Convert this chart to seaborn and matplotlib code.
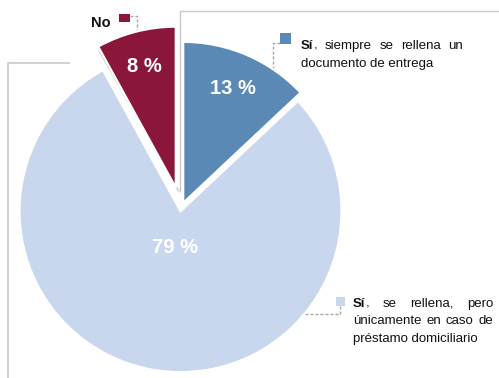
import numpy as np
import matplotlib
matplotlib.use("Agg")
import matplotlib.pyplot as plt
import seaborn as sns
from matplotlib.patches import Rectangle

# Answer shares (percent), drawn clockwise from 12 o'clock
shares = [13, 79, 8]
slice_keys = ["siempre", "prestamo", "no"]
palette = ["#5B89B5", "#C8D7EE", "#8A1739"]

# Callout texts: each line is a list of words, each word a list of (text, weight)
callout_siempre = [
    [[("Sí", "bold"), (",", "normal")], [("siempre", "normal")], [("se", "normal")],
     [("rellena", "normal")], [("un", "normal")]],
    "documento de entrega",
]
callout_prestamo = [
    [[("Sí", "bold"), (",", "normal")], [("se", "normal")], [("rellena,", "normal")],
     [("pero", "normal")]],
    [[("únicamente", "normal")], [("en", "normal")], [("caso", "normal")], [("de", "normal")]],
    "préstamo domiciliario",
]
callout_no = "No"

sns.set_theme(style="white")
plt.rcParams["font.family"] = ["Liberation Sans", "DejaVu Sans"]

W, H = 499, 378
fig = plt.figure(figsize=(W / 100, H / 100), dpi=100)
fig.patch.set_facecolor("white")
ax = fig.add_axes([0, 0, 1, 1])


def Y(y):
    """Convert a top-down pixel row to the axis' bottom-up coordinate."""
    return H - y


GRID = "#C9C9C9"
DASH = "#A8A8A8"
INK = "#111111"
FS = 9.5

# Light frame lines of the surrounding layout
ax.plot([180.5, 180.5, W], [Y(192), Y(11), Y(11)], color=GRID, lw=1.0, zorder=0,
        solid_capstyle="butt")
ax.plot([70, 8.5, 8.5], [Y(63), Y(63), Y(H)], color=GRID, lw=1.2, zorder=0,
        solid_capstyle="butt")

# pie() offsets exploded wedges in data units (pixels here)
wedges, _, pct_texts = ax.pie(
    shares,
    colors=palette,
    startangle=90,
    counterclock=False,
    explode=[5.6, 3.2, 21.0],
    radius=161,
    center=(181, Y(208)),
    autopct=lambda p: f"{p:.0f} %",
    pctdistance=0.775,
    wedgeprops=dict(edgecolor="white", linewidth=1.6),
    textprops=dict(color="white", fontweight="bold", fontsize=14.5),
)
for w in wedges:
    w.set_zorder(2)
for t in pct_texts:
    t.set_zorder(4)

# The large slice carries its label close to the centre
big = wedges[1]
mid = np.deg2rad((big.theta1 + big.theta2) / 2)
cx, cy = big.center
pct_texts[1].set_position((cx + 0.23 * big.r * np.cos(mid), cy + 0.23 * big.r * np.sin(mid)))

# Thin grey rim beside the slanted edge of the "No" slice
red = wedges[2]
rcx, rcy = red.center
apex = np.array([rcx + 3.0, rcy - 3.5])
a_left = np.deg2rad(red.theta2)
left_end = apex + red.r * np.array([np.cos(a_left), np.sin(a_left)])
ax.plot([left_end[0] - 2.2, apex[0]], [left_end[1] - 0.6, apex[1]], color=GRID, lw=1.0, zorder=1)

ax.set_xlim(0, W)
ax.set_ylim(0, H)
ax.set_aspect("equal", adjustable="box")
ax.axis("off")

renderer = fig.canvas.get_renderer()


def text_width(s, weight):
    t = ax.text(0, 0, s, fontsize=FS, fontweight=weight)
    w = t.get_window_extent(renderer).width
    t.remove()
    return w


def draw_word(word, x, y):
    for s, weight in word:
        ax.text(x, Y(y), s, fontsize=FS, fontweight=weight, color=INK,
                ha="left", va="baseline", zorder=5)
        x += text_width(s, weight)


def draw_callout(lines, left, right, first_baseline, step):
    for i, line in enumerate(lines):
        y = first_baseline + i * step
        if isinstance(line, str):
            ax.text(left, Y(y), line, fontsize=FS, color=INK, ha="left",
                    va="baseline", zorder=5)
            continue
        widths = [sum(text_width(s, wt) for s, wt in word) for word in line]
        gap = (right - left - sum(widths)) / (len(line) - 1)
        x = left
        for word, wd in zip(line, widths):
            draw_word(word, x, y)
            x += wd + gap


def dashed(xs, ys):
    ax.plot(xs, [Y(v) for v in ys], color=DASH, lw=1.0, dashes=(2.2, 1.4), zorder=1)


# Callout for "Sí, siempre..."
ax.add_patch(Rectangle((280, Y(43.5)), 11, 10.5, color=palette[0], zorder=5, lw=0))
dashed([280, 273, 273], [43, 43, 90])
draw_callout(callout_siempre, 301, 463, 49, 18)

# Callout for "Sí, se rellena, pero..."
ax.add_patch(Rectangle((336, Y(306)), 9.5, 9, color=palette[1], zorder=5, lw=0))
dashed([340.5, 340.5, 296], [306, 314, 314])
draw_callout(callout_prestamo, 353, 493, 307, 17.5)

# Callout for "No"
ax.add_patch(Rectangle((119, Y(22)), 11, 8, color=palette[2], zorder=5, lw=0))
dashed([130, 137.5, 137.5], [15.5, 15.5, 36])
ax.text(111, Y(27), callout_no, fontsize=10.5, fontweight="bold", color=INK,
        ha="right", va="baseline", zorder=5)

fig.savefig("out.png", dpi=100, facecolor="white")
